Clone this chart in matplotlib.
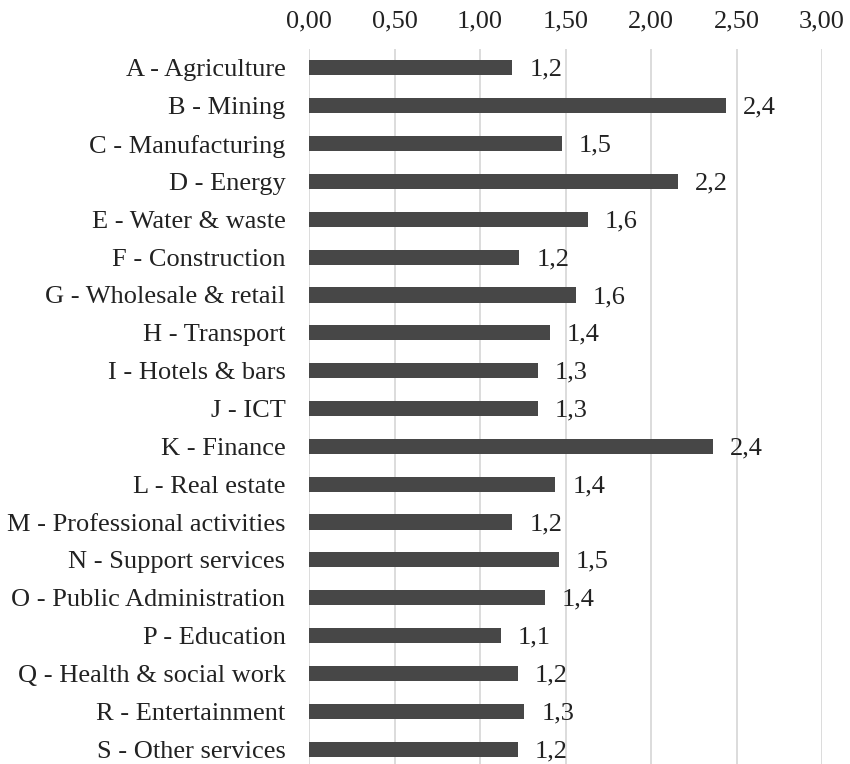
import matplotlib
matplotlib.use("Agg")
import matplotlib.pyplot as plt
from matplotlib.ticker import FuncFormatter

# sectors and ratio per sector
sectors = [
    "A - Agriculture", "B - Mining", "C - Manufacturing", "D - Energy",
    "E - Water & waste", "F - Construction", "G - Wholesale & retail",
    "H - Transport", "I - Hotels & bars", "J - ICT", "K - Finance",
    "L - Real estate", "M - Professional activities", "N - Support services",
    "O - Public Administration", "P - Education", "Q - Health & social work",
    "R - Entertainment", "S - Other services",
]
values = [1.19, 2.44, 1.48, 2.16, 1.63, 1.23, 1.56, 1.41, 1.34, 1.34,
          2.36, 1.44, 1.19, 1.46, 1.38, 1.12, 1.22, 1.26, 1.22]
xticks = [0, 0.5, 1.0, 1.5, 2.0, 2.5, 3.0]

plt.rcParams['font.family'] = ['Liberation Serif', 'DejaVu Serif']
txt = '#222222'

fig = plt.figure(figsize=(8.5, 7.64), dpi=100)
ax = fig.add_axes([309/850, -4/764, (822-309)/850, (768-49)/764])

pos = list(range(len(sectors)))
ax.barh(pos, values, height=0.40, color='#474747', zorder=3)
for p, v in zip(pos, values):
    ax.annotate(("%.1f" % v).replace('.', ','), (v, p), xytext=(17, -2),
                textcoords='offset pixels', va='center', ha='left',
                fontsize=19, color=txt)

ax.set_xlim(0, 3)
ax.set_ylim(len(sectors) - 0.5, -0.5)
ax.set_xticks(xticks)
ax.xaxis.set_major_formatter(FuncFormatter(lambda x, _: ("%.2f" % x).replace('.', ',')))
ax.xaxis.tick_top()
ax.set_yticks(pos)
ax.set_yticklabels(sectors)
ax.tick_params(axis='x', length=0, pad=12, labelsize=19, labelcolor=txt)
ax.tick_params(axis='y', length=0, pad=17, labelsize=19, labelcolor=txt)
ax.grid(axis='x', color='#d9d9d9', linewidth=1.3, zorder=0)
for s in ax.spines.values():
    s.set_visible(False)

fig.savefig("out.png", dpi=100)
